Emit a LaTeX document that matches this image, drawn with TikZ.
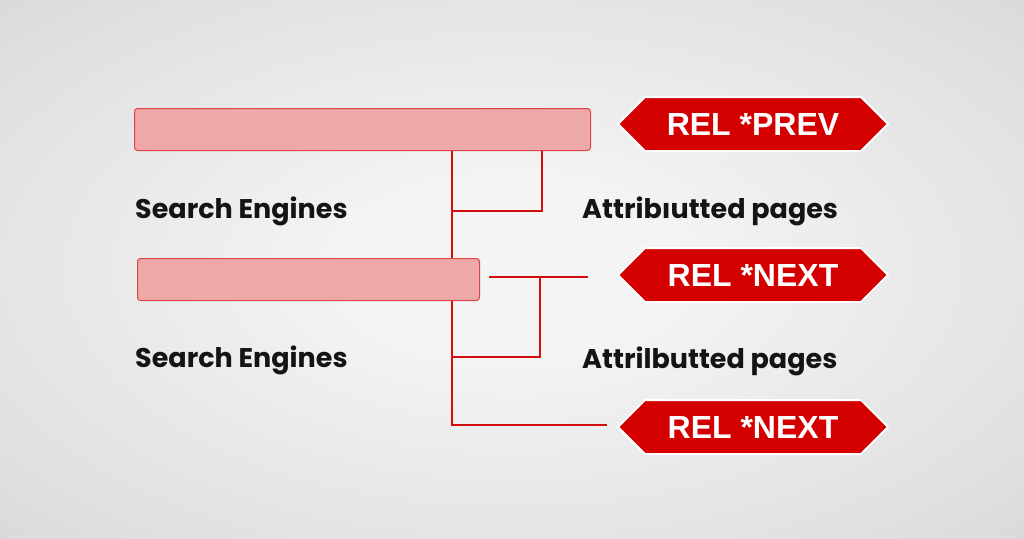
\documentclass[tikz,border=0pt]{standalone}
\usepackage{fontspec}
\setmainfont{Poppins}
\newfontfamily\tagfont{Liberation Sans}
\usetikzlibrary{shapes.symbols}
\definecolor{bgin}{HTML}{F4F4F4}
\definecolor{bgmid}{HTML}{E0E0E0}
\definecolor{bgedge}{HTML}{CACACA}
\definecolor{bgout}{HTML}{B8B8B8}
\definecolor{barfill}{HTML}{EFA8A8}
\definecolor{barline}{HTML}{DD4444}
\definecolor{tagred}{HTML}{D40000}
\definecolor{linered}{HTML}{D20F0F}
\pgfdeclareradialshading{bgshade}{\pgfpoint{0bp}{0bp}}{color(0bp)=(bgin); color(8bp)=(bgin); color(30bp)=(bgmid); color(50bp)=(bgedge); color(72bp)=(bgout)}
\tikzset{
  bar/.style={draw=barline, line width=1pt, fill=barfill, rounded corners=3pt, inner sep=0pt, anchor=north west},
  tagbox/.style={shape=signal, signal to=west and east, signal pointer angle=90, fill=tagred, draw=white, line width=2pt, minimum width=270pt, minimum height=54pt, inner sep=0pt, text=white, font=\tagfont\bfseries\fontsize{32}{32}\selectfont},
  lbl/.style={anchor=west, inner sep=0pt, font=\fontsize{27}{27}\selectfont\bfseries, text=black!92},
  conn/.style={draw=linered, line width=2.8pt}
}
\begin{document}
\begin{tikzpicture}[x=1pt,y=-1pt]
\useasboundingbox (0,0) rectangle (1024,538);
\shade[shading=bgshade] (0,0) rectangle (1024,538);
% bars
\node[bar, minimum width=456pt, minimum height=42pt] (bar1) at (134,108) {};
\node[bar, minimum width=342pt, minimum height=42pt] (bar2) at (137,258) {};
% labels
\node[lbl] (se1) at (135,211) {Search Engines};
\node[lbl] (se2) at (135,360) {Search Engines};
\node[lbl] (ap1) at (582,211) {Attribıutted pages};
\node[lbl] (ap2) at (582,361) {Attrilbutted pages};
% tags
\node[tagbox] (t1) at (753,124) {REL *PREV};
\node[tagbox] (t2) at (753,275) {REL *NEXT};
\node[tagbox] (t3) at (753,427) {REL *NEXT};
% junction coordinates
\coordinate (j1) at (452,211);
\coordinate (j2) at (542,211);
\coordinate (j3) at (452,357);
\coordinate (j4) at (540,357);
\coordinate (j5) at (540,277);
\coordinate (j6) at (489,277);
\coordinate (j7) at (588,277);
\coordinate (j8) at (452,425);
% connectors
\draw[conn] (bar1.south -| j1) -- (bar2.north -| j1);
\draw[conn] (j1) -- (j2) -- (bar1.south -| j2);
\draw[conn] (bar2.south -| j3) -- (j8) -- ([xshift=-10pt]t3.west |- j8);
\draw[conn] (j6) -- (j7);
\draw[conn] (j5) -- (j4) -- (j3);
\end{tikzpicture}
\end{document}
